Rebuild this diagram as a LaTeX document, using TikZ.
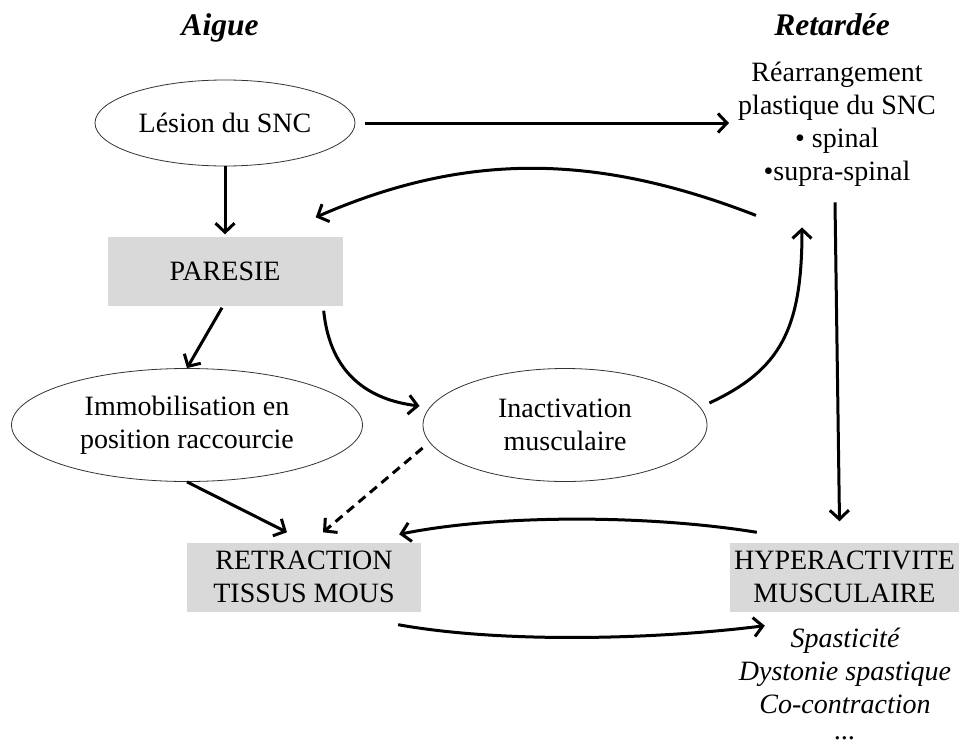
\documentclass[tikz,border=0pt]{standalone}
\usepackage{fontspec}
\setmainfont{Liberation Serif}
\usetikzlibrary{shapes.geometric, arrows.meta}
\definecolor{boxgray}{RGB}{217, 217, 217}

\begin{document}
\begin{tikzpicture}[x=1pt, y=-1pt,
  txt/.style={font=\fontsize{28}{33}\selectfont, align=center, inner sep=0pt},
  head/.style={font=\fontsize{31.5}{33}\selectfont\bfseries\itshape, inner sep=0pt, anchor=base},
  oval/.style={txt, ellipse, draw=black!80, line width=0.8pt},
  greybox/.style={txt, fill=boxgray, minimum height=69pt},
  arr/.style={line width=3pt, -{Straight Barb[length=9pt, width=19pt]}}]

\useasboundingbox (0,0) rectangle (959,744);

% Headings
\node[head] (aigue) at (220,35) {Aigue};
\node[head] (retardee) at (832,35) {Retardée};

% Acute side
\node[oval, minimum width=260pt, minimum height=86pt] (lesion) at (225,123) {Lésion du SNC};
\node[greybox, minimum width=235pt] (paresie) at (225,271) {PARESIE};
\node[oval, minimum width=351pt, minimum height=113pt] (immob) at (187,425) {Immobilisation en\\position raccourcie};
\node[oval, minimum width=284pt, minimum height=113pt] (inact) at (565,425) {Inactivation\\musculaire};
\node[greybox, minimum width=234pt] (retract) at (304,577) {RETRACTION\\TISSUS MOUS};

% Delayed side
\node[txt] (plast) at (837,124) {Réarrangement\\plastique du SNC\\• spinal\\•supra-spinal};
\node[greybox, minimum width=229pt] (hyper) at (844.5,577) {HYPERACTIVITE\\MUSCULAIRE};
\node[txt, font=\fontsize{28}{33}\selectfont\itshape, anchor=north] (sympt) at (845,628) {Spasticité\\Dystonie spastique\\Co-contraction\\[-7pt]...};

% Straight arrows
\draw[arr] ([xshift=10pt]lesion.east) -- ([xshift=-9pt]lesion.east -| plast.west); % lesion -> plasticity
\draw[arr] (lesion.south) -- ([yshift=2pt]paresie.north);
\draw[arr] ([xshift=-3pt, yshift=-2pt]paresie.south) -- (immob.north);
\draw[arr] (immob.south) -- ([xshift=-17pt, yshift=10pt]retract.north);
\draw[arr, dash pattern=on 9pt off 6pt] ([yshift=-23pt]inact.west) -- ([xshift=19pt, yshift=10pt]retract.north);
\draw[arr] ([xshift=-2pt, yshift=-16pt]plast.south) -- ([xshift=-5pt, yshift=21pt]hyper.north);

% Curved arrows
\draw[arr] ([xshift=-81pt, yshift=-29pt]plast.south) .. controls (600,155) and (470,150) .. ([xshift=-27pt, yshift=19pt]paresie.north east);
\draw[arr] ([xshift=-19pt, yshift=-5pt]paresie.south east) .. controls (330,375) and (370,400) .. ([xshift=-3pt, yshift=19pt]inact.west);
\draw[arr] ([xshift=2pt, yshift=22pt]inact.east) .. controls (780,370) and (802,330) .. ([xshift=-35pt, yshift=-41pt]plast.south);
\draw[arr] ([xshift=27pt, yshift=10pt]hyper.north west) .. controls (650,515) and (500,514) .. ([xshift=-22pt, yshift=8pt]retract.north east);
\draw[arr] ([xshift=-23pt, yshift=-13pt]retract.south east) .. controls (500,643) and (650,640) .. ([xshift=35pt, yshift=-14pt]hyper.south west);

\end{tikzpicture}
\end{document}
